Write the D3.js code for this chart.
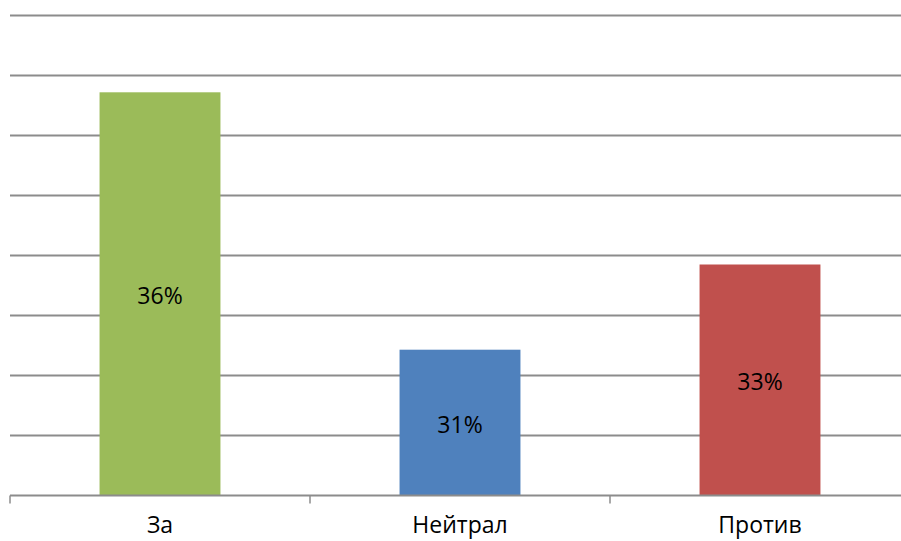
<!DOCTYPE html>
<html>
<head>
<meta charset="utf-8">
<script src="https://cdn.jsdelivr.net/npm/d3@7"></script>
<style>
  html, body { margin: 0; padding: 0; background: #fff; }
  svg { display: block; }
  .lbl { font-family: "Open Sans", "Noto Sans", sans-serif; fill: #000; }
</style>
</head>
<body>
<svg id="chart" width="901" height="541"></svg>
<script>
// Survey answers and their shares
const categories = ["За", "Нейтрал", "Против"];
const shares = [0.3572, 0.3143, 0.3285];
const colors = ["#9BBB59", "#4F81BD", "#C0504D"];
// Gridline positions along the value axis
const yTicks = [0.29, 0.30, 0.31, 0.32, 0.33, 0.34, 0.35, 0.36, 0.37];

const svg = d3.select("#chart");
const plot = { left: 10, right: 910, top: 15.5, bottom: 495.5 };

const x = d3.scaleBand().domain(categories).range([plot.left, plot.right]).paddingInner(0.597).paddingOuter(0.2985);
const y = d3.scaleLinear().domain([0.29, 0.37]).range([plot.bottom, plot.top]);

// horizontal gridlines
svg.append("g").selectAll("line").data(yTicks.slice(1)).join("line")
  .attr("x1", plot.left).attr("x2", 901)
  .attr("y1", d => y(d)).attr("y2", d => y(d))
  .attr("stroke", "#8c8c8c").attr("stroke-width", 2);

// bars
svg.append("g").selectAll("rect").data(categories).join("rect")
  .attr("x", d => x(d))
  .attr("width", x.bandwidth())
  .attr("y", (d, i) => y(shares[i]))
  .attr("height", (d, i) => y(0.29) - y(shares[i]))
  .attr("fill", (d, i) => colors[i]);

// category axis with ticks between groups
const fmt = d3.format(".0%");
const boundaries = d3.range(categories.length + 1).map(i => plot.left + i * (plot.right - plot.left) / categories.length);
const axis = svg.append("g");
axis.append("line")
  .attr("x1", plot.left).attr("x2", 901)
  .attr("y1", plot.bottom).attr("y2", plot.bottom)
  .attr("stroke", "#8c8c8c").attr("stroke-width", 2);
axis.selectAll("line.tick").data(boundaries).join("line")
  .attr("class", "tick")
  .attr("x1", d => d).attr("x2", d => d)
  .attr("y1", plot.bottom).attr("y2", plot.bottom + 8)
  .attr("stroke", "#8c8c8c").attr("stroke-width", 1.5);
axis.selectAll("text").data(categories).join("text")
  .attr("class", "lbl")
  .attr("x", d => x(d) + x.bandwidth() / 2)
  .attr("y", 533)
  .attr("text-anchor", "middle")
  .attr("font-size", 23)
  .text(d => d);

// value labels centred in bars
svg.append("g").selectAll("text").data(categories).join("text")
  .attr("class", "lbl")
  .attr("x", d => x(d) + x.bandwidth() / 2)
  .attr("y", (d, i) => (y(shares[i]) + y(0.29)) / 2)
  .attr("dy", "0.45em")
  .attr("text-anchor", "middle")
  .attr("font-size", 23)
  .text((d, i) => fmt(shares[i]));
</script>
</body>
</html>
